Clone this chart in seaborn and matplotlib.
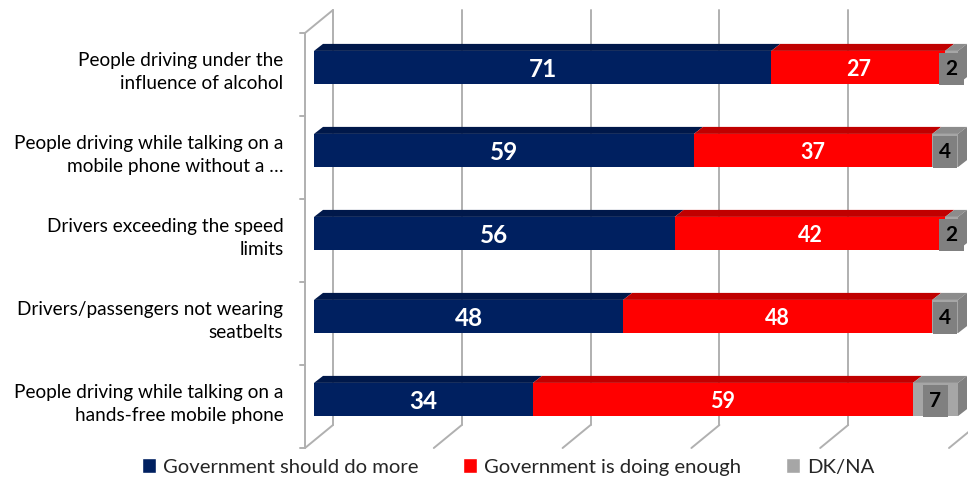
import matplotlib
matplotlib.use("Agg")
import matplotlib.pyplot as plt
from matplotlib.patches import Polygon, Patch
from matplotlib.lines import Line2D
import seaborn as sns
import pandas as pd

categories = [
    "People driving under the\ninfluence of alcohol",
    "People driving while talking on a\nmobile phone without a \u2026",
    "Drivers exceeding the speed\nlimits",
    "Drivers/passengers not wearing\nseatbelts",
    "People driving while talking on a\nhands-free mobile phone",
]
do_more = [71, 59, 56, 48, 34]
doing_enough = [27, 37, 42, 48, 59]
dk_na = [2, 4, 2, 4, 7]
series_names = ["Government should do more", "Government is doing enough", "DK/NA"]

NAVY, NAVY_TOP = "#002060", "#00184a"
RED, RED_TOP = "#ff0000", "#c00000"
GRAY, GRAY_DARK, GRAY_TOP = "#a6a6a6", "#808080", "#8c8c8c"
GRID = "#b0b0b0"
FONT = "Lato"

sns.set_style("white")
plt.rcParams["font.family"] = [FONT, "DejaVu Sans"]

df = pd.DataFrame({"cat": categories, "a": do_more, "b": doing_enough, "c": dk_na})
df["ab"] = df["a"] + df["b"]
df["abc"] = df["ab"] + df["c"]

W, H = 968, 482
fig = plt.figure(figsize=(W / 100, H / 100), dpi=100)
ax = fig.add_axes([314 / W, (H - 441) / H, 644 / W, 415 / H])

bw = 0.40
sns.barplot(data=df, x="abc", y="cat", color=GRAY, width=bw, ax=ax, orient="h", saturation=1, linewidth=0)
sns.barplot(data=df, x="ab", y="cat", color=RED, width=bw, ax=ax, orient="h", saturation=1, linewidth=0)
sns.barplot(data=df, x="a", y="cat", color=NAVY, width=bw, ax=ax, orient="h", saturation=1, linewidth=0)

ax.set_xlim(0, 100)
ax.set_ylim(4.5, -0.5)
for s in ax.spines.values():
    s.set_visible(False)
ax.set_xticks([])
ax.set_xlabel("")
ax.set_ylabel("")
ax.tick_params(axis="y", length=0, pad=22)
ax.set_yticks(range(len(categories)))
ax.set_yticklabels(categories, fontsize=13.7, color="#000000", linespacing=1.4)
for t in ax.get_yticklabels():
    t.set_horizontalalignment("right")

# pixel -> data unit conversions
ux = 644 / 100.0
uy = 415 / 5.0
def dxp(p):
    return p / ux
def dyp(p):  # positive p = up in picture
    return -p / uy

# 3D frame: back wall offset and front floor offset
bdx, bdy = dxp(19), dyp(16)
fdx, fdy = dxp(-9), dyp(-7)
lw = 1.4
for xv in range(0, 101, 20):
    ax.add_line(Line2D([xv + bdx, xv + bdx], [4.5 + bdy, -0.5 + bdy], color=GRID, lw=lw, clip_on=False, zorder=0))
    ax.add_line(Line2D([xv + fdx, xv + bdx], [4.5 + fdy, 4.5 + bdy], color=GRID, lw=lw, clip_on=False, zorder=0))
ax.add_line(Line2D([fdx, fdx], [4.5 + fdy, -0.5 + fdy], color=GRID, lw=lw, clip_on=False, zorder=0))
ax.add_line(Line2D([fdx, bdx], [-0.5 + fdy, -0.5 + bdy], color=GRID, lw=lw, clip_on=False, zorder=0))
for k in range(len(categories) + 1):
    yk = -0.5 + k + fdy
    ax.add_line(Line2D([fdx - dxp(5), fdx], [yk, yk], color=GRID, lw=lw, clip_on=False, zorder=0))

# top faces of bars
tdx, tdy = dxp(9), dyp(7)
for i in range(len(categories)):
    top = i - bw / 2
    bot = i + bw / 2
    segs = [(0, do_more[i], NAVY_TOP),
            (do_more[i], do_more[i] + doing_enough[i], RED_TOP),
            (do_more[i] + doing_enough[i], 100, GRAY_TOP)]
    for l, r, c in segs:
        ax.add_patch(Polygon([(l, top), (r, top), (r + tdx, top + tdy), (l + tdx, top + tdy)],
                             closed=True, facecolor=c, edgecolor="none", clip_on=False, zorder=3))
    ax.add_patch(Polygon([(100, top), (100 + tdx, top + tdy), (100 + tdx, bot + tdy), (100, bot)],
                         closed=True, facecolor=GRAY_DARK, edgecolor="none", clip_on=False, zorder=3))
    ax.text(do_more[i] / 2, i + 0.02, str(do_more[i]), ha="center", va="center",
            color="white", fontsize=17.5, fontweight="bold", zorder=5)
    ax.text(do_more[i] + doing_enough[i] / 2, i + 0.02, str(doing_enough[i]), ha="center", va="center",
            color="white", fontsize=15.5, fontweight="bold", zorder=5)
    ax.text(do_more[i] + doing_enough[i] + dk_na[i] / 2, i + 0.02, str(dk_na[i]), ha="center", va="center",
            color="black", fontsize=15, fontweight="bold", zorder=5,
            bbox=dict(boxstyle="square,pad=0.3", facecolor=GRAY_DARK, edgecolor="none"))

handles = [Patch(facecolor=NAVY), Patch(facecolor=RED), Patch(facecolor=GRAY)]
fig.legend(handles, series_names, loc="center", bbox_to_anchor=(0.525, 0.031), ncol=3,
           frameon=False, fontsize=14.6, handlelength=0.7, handleheight=0.7,
           handletextpad=0.35, columnspacing=2.2)

fig.savefig("out.png", dpi=100)
